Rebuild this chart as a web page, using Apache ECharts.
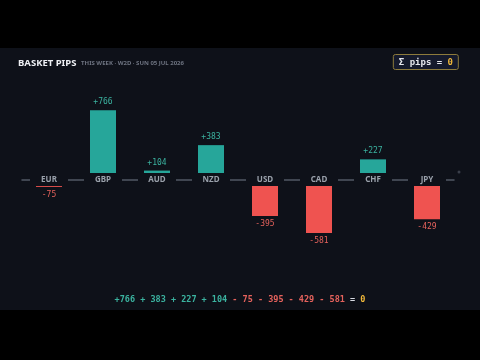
<!DOCTYPE html>
<html>
<head>
<meta charset="utf-8">
<script src="https://cdn.jsdelivr.net/npm/echarts@6/dist/echarts.min.js"></script>
<style>
  html,body{margin:0;padding:0;background:#000;}
  #panel{position:absolute;left:0;top:48px;width:480px;height:262px;background:#0e1119;}
  #chart{position:absolute;left:0;top:0;width:480px;height:360px;}
</style>
</head>
<body>
<div id="panel"></div>
<div id="chart"></div>
<script>
const currencies = ['EUR','GBP','AUD','NZD','USD','CAD','CHF','JPY'];
const pips = [-75, 766, 104, 383, -395, -581, 227, -429];
const eqPos = ['+766','383','227','104'];
const eqNeg = ['75','395','429','581'];

const UP = '#26a69a', DN = '#ef5350', PANEL = '#0e1119';
const MONO = '"DejaVu Sans Mono", monospace';
const sgn = v => (v>0?'+':'')+v;

const c = echarts.init(document.getElementById('chart'));
c.setOption({
  backgroundColor:'transparent',
  animation:false,
  title:[
    {left:18, top:58, padding:0, text:'{a|BASKET PIPS}{b|   THIS WEEK · W2D · SUN 05 JUL 2026}',
     textStyle:{rich:{
       a:{color:'#eef0f4', fontSize:9.5, fontWeight:'bold', fontFamily:'"Noto Sans"'},
       b:{color:'#6d7380', fontSize:6, fontFamily:'"Noto Sans"'}
     }}},
    {right:21, top:54, text:'{w|Σ pips = }{g|0}',
     backgroundColor:'#151a2c', borderColor:'#8d7b3c', borderWidth:1, borderRadius:2, padding:[4,6,3,6],
     textStyle:{rich:{
       w:{color:'#e6e8ee', fontSize:9, fontFamily:MONO},
       g:{color:'#f0b83a', fontSize:9, fontFamily:MONO, fontWeight:'bold'}
     }}},
    {left:'center', top:290, text:'{p|'+eqPos.join(' + ')+'}{n| - '+eqNeg.join(' - ')+'}{w| = }{g|0}',
     textStyle:{rich:{
       p:{color:'#3bb3a0', fontSize:8.5, fontFamily:MONO},
       n:{color:'#e5625c', fontSize:8.5, fontFamily:MONO},
       w:{color:'#d8dbe2', fontSize:8.5, fontFamily:MONO},
       g:{color:'#f0b83a', fontSize:8.5, fontFamily:MONO, fontWeight:'bold'}
     }}}
  ],
  grid:{left:22, right:26, top:98, bottom:107},
  xAxis:{
    type:'category', data:currencies,
    axisLine:{onZero:true, lineStyle:{color:'#525864', width:1.5}},
    axisTick:{show:false},
    axisLabel:{show:false}
  },
  yAxis:{type:'value', min:-800, max:900, show:false, splitLine:{show:false}},
  series:[{
    type:'bar', barWidth:26, z:2,
    data:pips.map(v=>({
      value:v,
      itemStyle:{color:v>0?UP:DN},
      label:{show:true, position:v>0?'top':'bottom', distance:4,
             formatter:sgn(v), color:v>0?'#3bb3a0':'#e5625c',
             fontSize:8, fontFamily:MONO}
    }))
  },{
    // category tags sitting on the zero line, masking the bar roots
    type:'scatter', z:5, symbol:'rect', symbolSize:[38,13], symbolOffset:[0,-0.5],
    itemStyle:{color:PANEL, opacity:1},
    data:currencies.map(()=>0),
    label:{show:true, position:'inside', formatter:p=>currencies[p.dataIndex],
           color:'#9aa1ab', fontSize:8, fontWeight:'bold', fontFamily:'"Noto Sans"'},
    emphasis:{disabled:true}
  }],
  graphic:[{type:'circle', shape:{cx:459, cy:172, r:1.5}, style:{fill:'#3a3f4a'}}]
});
</script>
</body>
</html>
